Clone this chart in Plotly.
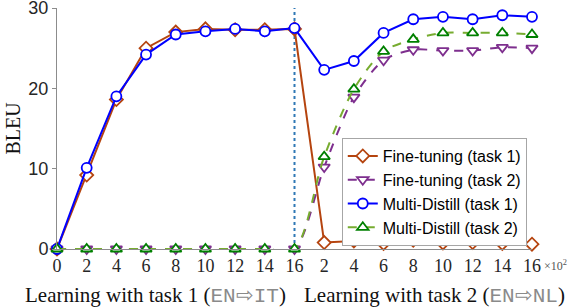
import plotly.graph_objects as go

# ---- data ----
step_labels = ["0", "2", "4", "6", "8", "10", "12", "14", "16",
               "2", "4", "6", "8", "10", "12", "14", "16"]
ft_task1 = [0, 9.2, 18.6, 25.0, 27.0, 27.4, 27.3, 27.3, 27.4,
            0.8, 1.0, 0.7, 1.1, 0.75, 0.8, 0.7, 0.6]
ft_task2 = [0, 0, 0, 0, 0, 0, 0, 0, 0,
            10.2, 18.9, 23.5, 24.8, 24.7, 24.7, 25.1, 25.0]
md_task1 = [0, 10.1, 19.0, 24.2, 26.7, 27.1, 27.4, 27.1, 27.5,
            22.3, 23.4, 26.9, 28.6, 28.9, 28.6, 29.1, 28.9]
md_task2 = [0, 0, 0, 0, 0, 0, 0, 0, 0,
            11.5, 19.9, 24.6, 26.1, 26.9, 26.9, 26.9, 26.7]
switch_point = 8
y_ticks = [0, 10, 20, 30]

xs = list(range(len(step_labels)))

fig = go.Figure()

fig.add_trace(go.Scatter(
    x=xs, y=ft_task1, name="Fine-tuning (task 1)", mode="lines+markers",
    line=dict(color="#B5440F", width=2),
    marker=dict(symbol="diamond", size=10, color="white",
                line=dict(color="#B5440F", width=1.8)),
    cliponaxis=False))
fig.add_trace(go.Scatter(
    x=xs, y=ft_task2, name="Fine-tuning (task 2)", mode="lines+markers",
    line=dict(color="#7E2F8E", width=2, dash="dash", shape="spline", smoothing=0.8),
    marker=dict(symbol="triangle-down", size=10, color="white",
                line=dict(color="#7E2F8E", width=1.8)),
    cliponaxis=False))
fig.add_trace(go.Scatter(
    x=xs, y=md_task1, name="Multi-Distill (task 1)", mode="lines+markers",
    line=dict(color="#0000FF", width=2),
    marker=dict(symbol="circle", size=10, color="white",
                line=dict(color="#0000FF", width=1.8)),
    cliponaxis=False))
fig.add_trace(go.Scatter(
    x=xs, y=md_task2, name="Multi-Distill (task 2)", mode="lines+markers",
    line=dict(color="#77AC30", width=2, dash="dash", shape="spline", smoothing=0.8),
    marker=dict(symbol="triangle-up", size=10, color="white",
                line=dict(color="#008000", width=1.8)),
    cliponaxis=False))

# vertical dotted separator
fig.add_shape(type="line", x0=switch_point, x1=switch_point, y0=0, y1=30,
              xref="x", yref="y", line=dict(color="#2F78B5", width=2, dash="dot"),
              layer="below")

mono = "font-family:Liberation Mono;font-weight:normal;color:#8a8a8a"
serif = "Liberation Serif, Times New Roman, serif"
fig.add_annotation(
    text="Learning with task 1 (<span style=\"%s\">EN⇨IT</span>)" % mono,
    xref="paper", yref="paper", x=(155 - 57) / 475, y=(249 - 295) / 241,
    showarrow=False, xanchor="center", yanchor="middle",
    font=dict(family=serif, size=21, color="#111"))
fig.add_annotation(
    text="Learning with task 2 (<span style=\"%s\">EN⇨NL</span>)" % mono,
    xref="paper", yref="paper", x=(434 - 57) / 475, y=(249 - 295) / 241,
    showarrow=False, xanchor="center", yanchor="middle",
    font=dict(family=serif, size=21, color="#111"))
fig.add_annotation(
    text="×10<sup>2</sup>", xref="paper", yref="paper",
    x=(542 - 57) / 475, y=(249 - 265) / 241, showarrow=False,
    xanchor="left", yanchor="middle",
    font=dict(family=serif, size=12, color="#555"))

fig.update_layout(
    width=572, height=308,
    margin=dict(l=57, r=40, t=8, b=59, autoexpand=False),
    plot_bgcolor="white", paper_bgcolor="white",
    showlegend=True,
    legend=dict(x=0.989, y=(249 - 138) / 241, xanchor="right", yanchor="top",
                bgcolor="white", bordercolor="#A6A6A6", borderwidth=1,
                font=dict(family="Liberation Sans, Arial, sans-serif", size=16, color="#000"),
                tracegroupgap=0, itemwidth=30),
)
fig.update_xaxes(
    range=[0, 16], tickmode="array", tickvals=xs, ticktext=step_labels,
    showline=True, linecolor="#8C8C8C", linewidth=1, ticks="", showgrid=False,
    zeroline=False, automargin=False, ticklabeloverflow="allow",
    tickfont=dict(family=serif, size=18, color="#262626"))
fig.update_yaxes(
    range=[0, 30], tickvals=y_ticks, showline=True, linecolor="#8C8C8C", linewidth=1,
    ticks="outside", ticklen=4, tickcolor="#8C8C8C", showgrid=False, zeroline=False,
    automargin=False, ticklabeloverflow="allow",
    tickfont=dict(family="Liberation Sans, Arial, sans-serif", size=18, color="#262626"),
    title=dict(text="BLEU", standoff=2,
               font=dict(family=serif, size=20, color="#111")))

fig.write_html("out.html", config={"displayModeBar": False},
               post_script="document.body.style.margin='0';")
